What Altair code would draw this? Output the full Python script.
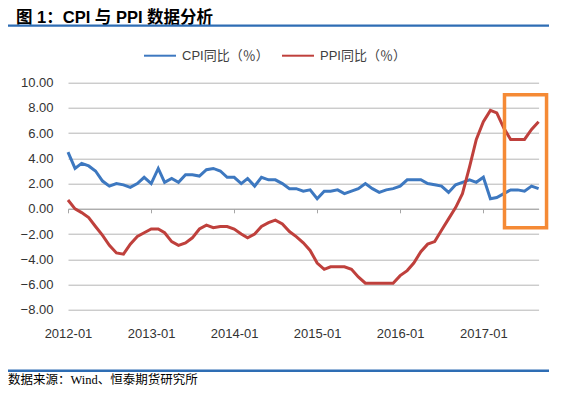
import altair as alt
import pandas as pd

# ---- data ----
months = pd.date_range("2012-01-01", "2017-09-01", freq="MS").strftime("%Y-%m-%dT00:00:00").tolist()

cpi = [4.5, 3.2, 3.6, 3.4, 3.0, 2.2, 1.8, 2.0, 1.9, 1.7, 2.0, 2.5,
       2.0, 3.2, 2.1, 2.4, 2.1, 2.7, 2.7, 2.6, 3.1, 3.2, 3.0, 2.5,
       2.5, 2.0, 2.4, 1.8, 2.5, 2.3, 2.3, 2.0, 1.6, 1.6, 1.4, 1.5,
       0.8, 1.4, 1.4, 1.5, 1.2, 1.4, 1.6, 2.0, 1.6, 1.3, 1.5, 1.6,
       1.8, 2.3, 2.3, 2.3, 2.0, 1.9, 1.8, 1.3, 1.9, 2.1, 2.3, 2.1,
       2.5, 0.8, 0.9, 1.2, 1.5, 1.5, 1.4, 1.8, 1.6]

ppi = [0.7, 0.0, -0.3, -0.7, -1.4, -2.1, -2.9, -3.5, -3.6, -2.8, -2.2, -1.9,
       -1.6, -1.6, -1.9, -2.6, -2.9, -2.7, -2.3, -1.6, -1.3, -1.5, -1.4, -1.4,
       -1.6, -2.0, -2.3, -2.0, -1.4, -1.1, -0.9, -1.2, -1.8, -2.2, -2.7, -3.3,
       -4.3, -4.8, -4.6, -4.6, -4.6, -4.8, -5.4, -5.9, -5.9, -5.9, -5.9, -5.9,
       -5.3, -4.9, -4.3, -3.4, -2.8, -2.6, -1.7, -0.8, 0.1, 1.2, 3.3, 5.5,
       6.9, 7.8, 7.6, 6.4, 5.5, 5.5, 5.5, 6.3, 6.9]

series_names = ["CPI同比（％）", "PPI同比（％）"]
series_colors = ["#3D78C0", "#BF403C"]

y_ticks = [-8, -6, -4, -2, 0, 2, 4, 6, 8, 10]
x_tick_years = [2012, 2013, 2014, 2015, 2016, 2017]

# highlight box (data units)
box_x = ["2017-04-04T00:00:00"]
box_x2 = ["2017-10-06T00:00:00"]
box_y = [9.05]
box_y2 = [-1.5]

title_text = "图 1：CPI 与 PPI 数据分析"
source_text = "数据来源：Wind、恒泰期货研究所"

# ---- build tables ----
df = pd.DataFrame({
    "date": months * 2,
    "value": cpi + ppi,
    "series": [series_names[0]] * len(cpi) + [series_names[1]] * len(ppi),
})
df_box = pd.DataFrame({"x": box_x, "x2": box_x2, "y": box_y, "y2": box_y2})

W, H = 470.6, 227
zero_px = H * 10 / 18

x_scale = alt.Scale(domain=[alt.DateTime(year=2012, month=1, date=1),
                            alt.DateTime(year=2017, month=9, date=1)], nice=False)
y_scale = alt.Scale(domain=[-8, 10], nice=False)

x_axis = alt.Axis(values=[alt.DateTime(year=y, month=1, date=1) for y in x_tick_years],
                  format="%Y-%m", title=None, grid=False,
                  offset=-(H - zero_px), domainColor="#A6A6A6", tickColor="#A6A6A6",
                  tickSize=4, labelPadding=115, labelFontSize=13, labelColor="#333333",
                  labelFont="Liberation Sans", labelFlush=False)
y_axis = alt.Axis(values=y_ticks, format=".2f", title=None, domain=False, ticks=False,
                  grid=True, gridColor="#B5B5B5", labelPadding=15, labelFontSize=13,
                  labelColor="#333333", labelFont="Liberation Sans", labelOverlap=False)

lines = alt.Chart(df).mark_line(strokeWidth=3).encode(
    x=alt.X("date:T", scale=x_scale, axis=x_axis),
    y=alt.Y("value:Q", scale=y_scale, axis=y_axis),
    color=alt.Color("series:N",
                    scale=alt.Scale(domain=series_names, range=series_colors),
                    legend=alt.Legend(orient="none", legendX=75, legendY=-44, direction="horizontal",
                                      title=None, symbolType="stroke", symbolSize=1024,
                                      symbolStrokeWidth=2, labelFontSize=13, labelColor="#404040",
                                      labelFont="Liberation Sans, Noto Sans CJK SC",
                                      labelOffset=5, columnPadding=9)),
)

box = alt.Chart(df_box).mark_rect(fill=None, stroke="#F58A35", strokeWidth=3.5).encode(
    x=alt.X("x:T", scale=x_scale, axis=x_axis), x2="x2:T",
    y=alt.Y("y:Q", scale=y_scale, axis=y_axis), y2="y2:Q"
)

title = alt.Chart(pd.DataFrame({"t": [title_text]})).mark_text(
    align="left", baseline="middle", fontSize=16.5, fontWeight="bold",
    font="Liberation Sans, Noto Sans CJK SC", color="#000000"
).encode(x=alt.value(-52), y=alt.value(-64.6), text="t:N")

source = alt.Chart(pd.DataFrame({"t": [source_text]})).mark_text(
    align="left", baseline="middle", fontSize=12.5,
    font="Liberation Serif, Noto Sans CJK SC", color="#000000"
).encode(x=alt.value(-60), y=alt.value(297.5), text="t:N")

top_rule = alt.Chart(pd.DataFrame({"a": [0]})).mark_rule(color="#2E6DB4", strokeWidth=2.2).encode(
    x=alt.value(-61), x2=alt.value(481), y=alt.value(-57)
)
bottom_rule = alt.Chart(pd.DataFrame({"a": [0]})).mark_rule(color="#2E6DB4", strokeWidth=2.5).encode(
    x=alt.value(-61), x2=alt.value(481), y=alt.value(288)
)

chart = alt.layer(lines, box, title, source, top_rule, bottom_rule).properties(
    width=W, height=H,
    autosize=alt.AutoSizeParams(type="none"),
    padding={"left": 60, "top": 74.7, "right": 18.4, "bottom": 77.3},
).configure_view(stroke=None)

chart.save("out.html", embed_options={"renderer": "svg", "actions": False})
